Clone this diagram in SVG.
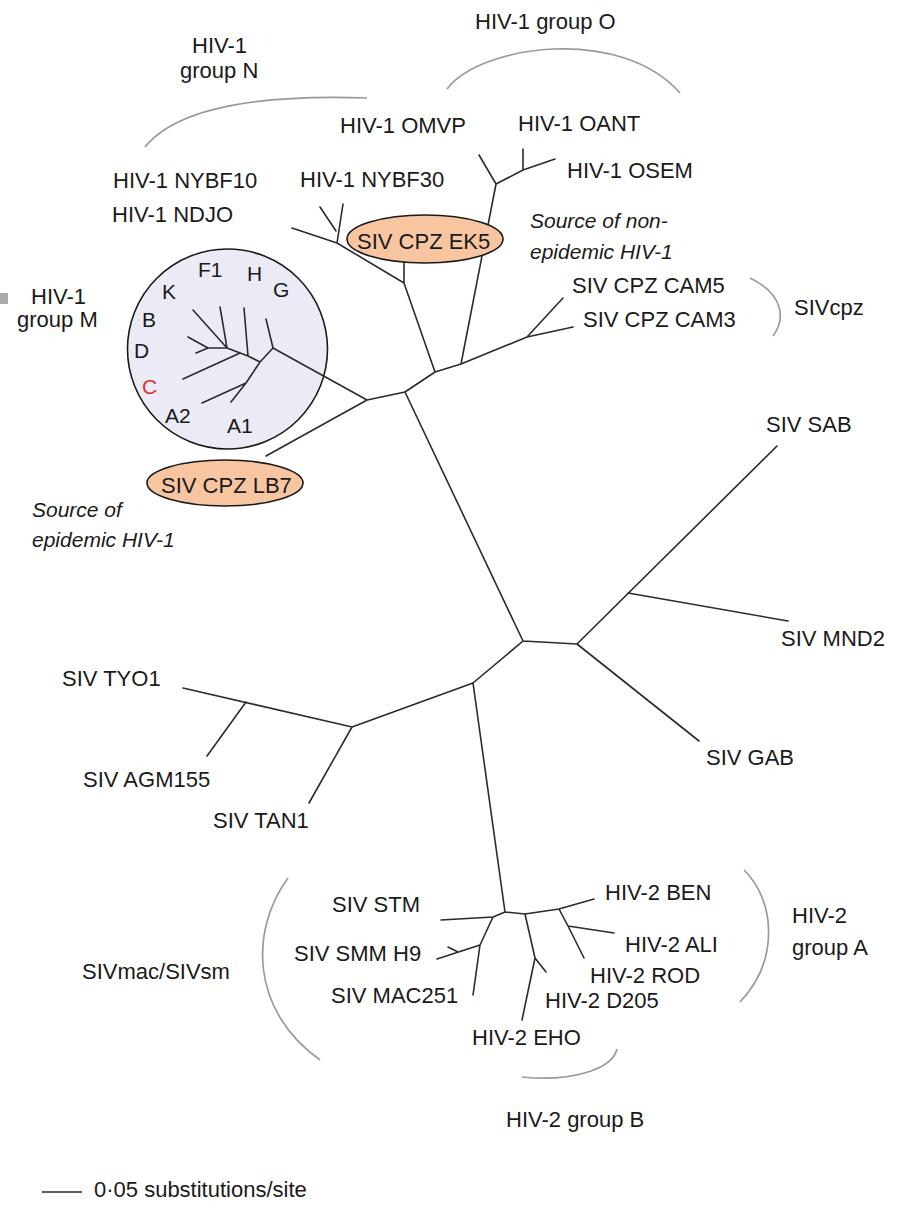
<svg xmlns="http://www.w3.org/2000/svg" width="903" height="1212" viewBox="0 0 903 1212">
<style>
text{font-family:"Liberation Sans",Arial,sans-serif;font-size:22px;fill:#1a1a1a}
.it{font-style:italic;font-size:21px}
.sm{font-size:21px}
.red{fill:#e0302a}
.br{fill:none;stroke:#2b2b2b;stroke-width:1.6;stroke-linecap:round;stroke-linejoin:round}
.arc{fill:none;stroke:#9a9a9a;stroke-width:1.7}
.pill{fill:#f8c5a1;stroke:#1a1a1a;stroke-width:1.6}
.circ{fill:#ebebf5;stroke:#1a1a1a;stroke-width:1.6}
</style>
<rect width="903" height="1212" fill="#fff"/>
<rect x="0" y="293" width="8" height="11" fill="#aaaaaa"/>
<g id="groupM"><circle class="circ" cx="227.5" cy="349" r="100"/>
<text x="31" y="304">HIV-1</text><text x="17" y="327">group M</text>
<text class="sm" x="162" y="299">K</text><text class="sm" x="198" y="277">F1</text><text class="sm" x="247" y="281">H</text><text class="sm" x="273" y="297">G</text>
<text class="sm" x="142" y="327">B</text><text class="sm" x="134" y="358">D</text><text class="sm red" x="142" y="394">C</text>
<text class="sm" x="165" y="423">A2</text><text class="sm" x="227" y="433">A1</text></g>
<g id="connectors" class="br">
<path d="M273,348 L266,319 M273,348 L260,362 L246,383 L202,403 M246,383 L231,402 M260,362 L248,356 L244,308 M248,356 L227,348 M240,353 L183,379 M227,348 L220,307 M227,348 L193,310 M227,348 L208,348 L188,337 M208,348 L196,353"/>
<path d="M367,400 L273,348 M367,400 L266,456 M367,400 L405,392 L435,372 L461,364 L527,337 L563,298 M527,337 L573,327 M461,364 L496,184 L479,155 M496,184 L523,170 L523,149 M523,170 L555,159 M435,372 L404,283 L404,258 M404,283 L337,243 L292,228 M337,243 L343,204 M336,231 L320,207"/>
<path d="M405,392 L523,641 L577,644 L777,446 M628,593 L788,621 M577,644 L699,741 M523,641 L473,683 L352,727 L309,803 M352,727 L183,688 M246,702 L207,756"/>
<path d="M473,683 L505,912 L493,917 L441,920 M493,917 L480,945 L473,995 M480,945 L437,959 M458,952 L448,947 M505,912 L525,914 L559,909 L594,899 M559,909 L568,926 L584,958 M568,926 L614,933 M525,914 L535,958 L522,1020 M535,958 L546,972"/>
</g>
<g id="arcs" class="arc">
<path d="M145,147 Q190,92 367,98"/>
<path d="M447,89 C480,45 620,25 680,93"/>
<path d="M750,278 C785,295 785,320 773,336"/>
<path d="M288,878 C250,930 250,1010 320,1060"/>
<path d="M744,870 C775,900 780,960 740,1002"/>
<path d="M617,1049 C612,1070 570,1082 522,1077"/>
</g>
<g id="EK5"><ellipse class="pill" cx="425" cy="239" rx="78" ry="24"/><text x="357" y="249">SIV CPZ EK5</text></g>
<g id="LB7"><ellipse class="pill" cx="225" cy="483" rx="78" ry="23"/><text x="161" y="493">SIV CPZ LB7</text></g>
<g id="groupO-label"><text x="475" y="29">HIV-1 group O</text></g>
<g id="groupN-label"><text x="192" y="53">HIV-1</text><text x="180" y="78">group N</text></g>
<g id="OMVP"><text x="340" y="133">HIV-1 OMVP</text></g>
<g id="OANT"><text x="518" y="131">HIV-1 OANT</text></g>
<g id="OSEM"><text x="567" y="178">HIV-1 OSEM</text></g>
<g id="NYBF10"><text x="113" y="188">HIV-1 NYBF10</text></g>
<g id="NDJO"><text x="112" y="222">HIV-1 NDJO</text></g>
<g id="NYBF30"><text x="300" y="187">HIV-1 NYBF30</text></g>
<g id="nonepidemic"><text class="it" x="530" y="228">Source of non-</text><text class="it" x="530" y="259">epidemic HIV-1</text></g>
<g id="epidemic"><text class="it" x="32" y="517">Source of</text><text class="it" x="32" y="547">epidemic HIV-1</text></g>
<g id="CAM5"><text x="572" y="293">SIV CPZ CAM5</text></g>
<g id="CAM3"><text x="583" y="327">SIV CPZ CAM3</text></g>
<g id="SIVcpz"><text x="794" y="315">SIVcpz</text></g>
<g id="SAB"><text x="766" y="432">SIV SAB</text></g>
<g id="MND2"><text x="781" y="646">SIV MND2</text></g>
<g id="GAB"><text x="706" y="765">SIV GAB</text></g>
<g id="TYO1"><text x="62" y="686">SIV TYO1</text></g>
<g id="AGM155"><text x="83" y="787">SIV AGM155</text></g>
<g id="TAN1"><text x="213" y="828">SIV TAN1</text></g>
<g id="STM"><text x="332" y="912">SIV STM</text></g>
<g id="SMMH9"><text x="294" y="961">SIV SMM H9</text></g>
<g id="MAC251"><text x="331" y="1003">SIV MAC251</text></g>
<g id="SIVmac"><text x="82" y="979">SIVmac/SIVsm</text></g>
<g id="BEN"><text x="605" y="900">HIV-2 BEN</text></g>
<g id="ALI"><text x="625" y="952">HIV-2 ALI</text></g>
<g id="ROD"><text x="590" y="983">HIV-2 ROD</text></g>
<g id="D205"><text x="545" y="1008">HIV-2 D205</text></g>
<g id="EHO"><text x="472" y="1045">HIV-2 EHO</text></g>
<g id="groupA-label"><text x="792" y="923">HIV-2</text><text x="792" y="955">group A</text></g>
<g id="groupB-label"><text x="506" y="1127">HIV-2 group B</text></g>
<g id="scale"><line x1="42" y1="1192" x2="82" y2="1192" stroke="#2b2b2b" stroke-width="1.6"/><text x="94" y="1197">0·05 substitutions/site</text></g>
</svg>
